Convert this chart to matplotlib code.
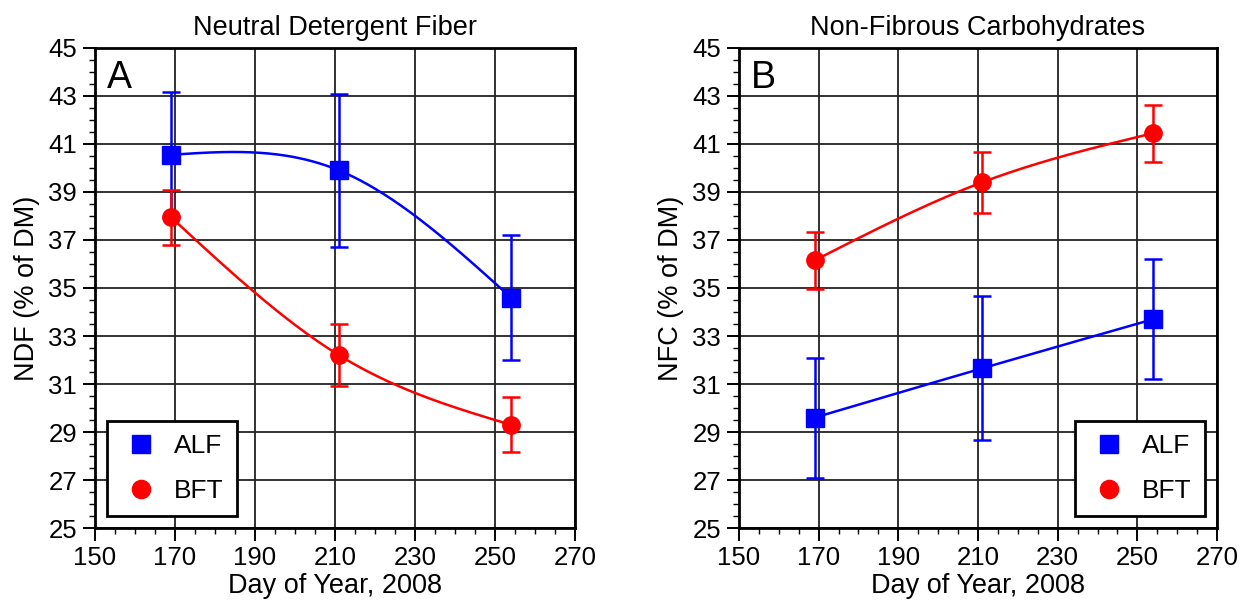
import numpy as np
import matplotlib
matplotlib.use("Agg")
import matplotlib.pyplot as plt
from matplotlib.ticker import MultipleLocator

plt.rcParams["font.family"] = ["Liberation Sans", "DejaVu Sans"]

# Day of year for the three harvests
days = [169, 211, 254]

# Panel A: neutral detergent fiber (% of DM)
ndf_alf = [40.55, 39.9, 34.6]
ndf_alf_se = [2.6, 3.2, 2.6]
ndf_bft = [37.95, 32.2, 29.3]
ndf_bft_se = [1.15, 1.3, 1.15]

# Panel B: non-fibrous carbohydrates (% of DM)
nfc_alf = [29.6, 31.65, 33.7]
nfc_alf_se = [2.5, 3.0, 2.5]
nfc_bft = [36.15, 39.4, 41.45]
nfc_bft_se = [1.2, 1.27, 1.18]


def natural_spline(x, y, n=200):
    """Natural cubic spline through the points, sampled at n positions."""
    x = np.asarray(x, float)
    y = np.asarray(y, float)
    k = len(x)
    h = np.diff(x)
    A = np.zeros((k, k))
    b = np.zeros(k)
    A[0, 0] = A[-1, -1] = 1.0
    for i in range(1, k - 1):
        A[i, i - 1] = h[i - 1]
        A[i, i] = 2 * (h[i - 1] + h[i])
        A[i, i + 1] = h[i]
        b[i] = 6 * ((y[i + 1] - y[i]) / h[i] - (y[i] - y[i - 1]) / h[i - 1])
    M = np.linalg.solve(A, b)
    xs = np.linspace(x[0], x[-1], n)
    idx = np.clip(np.searchsorted(x, xs) - 1, 0, k - 2)
    x0, x1 = x[idx], x[idx + 1]
    hh = h[idx]
    ys = (M[idx] * (x1 - xs) ** 3 / (6 * hh)
          + M[idx + 1] * (xs - x0) ** 3 / (6 * hh)
          + (y[idx] / hh - M[idx] * hh / 6) * (x1 - xs)
          + (y[idx + 1] / hh - M[idx + 1] * hh / 6) * (xs - x0))
    return xs, ys


def draw_panel(ax, alf, alf_se, bft, bft_se, title, ylabel, letter, legend_loc):
    for vals, se, color, marker, ms, label in (
        (alf, alf_se, "#0000ff", "s", 12.5, "ALF"),
        (bft, bft_se, "#ff0000", "o", 12.5, "BFT"),
    ):
        xs, ys = natural_spline(days, vals)
        ax.plot(xs, ys, color=color, lw=1.8, zorder=3)
        ax.errorbar(days, vals, yerr=se, fmt="none", ecolor=color,
                    elinewidth=1.8, capsize=6.5, capthick=1.8, zorder=3)
        ax.plot(days, vals, ls="none", marker=marker, ms=ms, color=color,
                mec=color, label=label, zorder=4)

    ax.set_xlim(150, 270)
    ax.set_ylim(25, 45)
    ax.xaxis.set_major_locator(MultipleLocator(20, offset=10))
    ax.xaxis.set_minor_locator(MultipleLocator(5))
    ax.yaxis.set_major_locator(MultipleLocator(2, offset=1))
    ax.yaxis.set_minor_locator(MultipleLocator(0.5))
    ax.grid(True, which="major", color="#222222", lw=1.3)
    ax.set_axisbelow(True)
    ax.tick_params(which="major", direction="out", length=9, width=1.4,
                   labelsize=18.5, pad=4)
    ax.tick_params(which="minor", direction="out", length=4.5, width=1.0)
    for spine in ax.spines.values():
        spine.set_linewidth(2.0)
        spine.set_color("black")

    ax.set_title(title, fontsize=19.5, pad=9)
    ax.set_xlabel("Day of Year, 2008", fontsize=19.5, labelpad=2)
    ax.set_ylabel(ylabel, fontsize=19.5, labelpad=6)
    ax.text(0.025, 0.975, letter, transform=ax.transAxes, fontsize=27,
            ha="left", va="top")

    leg = ax.legend(loc=legend_loc, fontsize=19, frameon=True, fancybox=False,
                    edgecolor="black", framealpha=1, borderpad=0.5,
                    labelspacing=0.8, handlelength=1.6, handletextpad=0.45,
                    borderaxespad=0.45, markerscale=1.05)
    leg.get_frame().set_linewidth(2.0)


fig = plt.figure(figsize=(12.43, 6.02), dpi=100)
ax_a = fig.add_axes([0.0764, 0.1229, 0.3862, 0.7974])
ax_b = fig.add_axes([0.5945, 0.1229, 0.3846, 0.7974])

draw_panel(ax_a, ndf_alf, ndf_alf_se, ndf_bft, ndf_bft_se,
           "Neutral Detergent Fiber", "NDF (% of DM)", "A", "lower left")
draw_panel(ax_b, nfc_alf, nfc_alf_se, nfc_bft, nfc_bft_se,
           "Non-Fibrous Carbohydrates", "NFC (% of DM)", "B", "lower right")

fig.savefig("out.png", dpi=100)
plt.close(fig)
